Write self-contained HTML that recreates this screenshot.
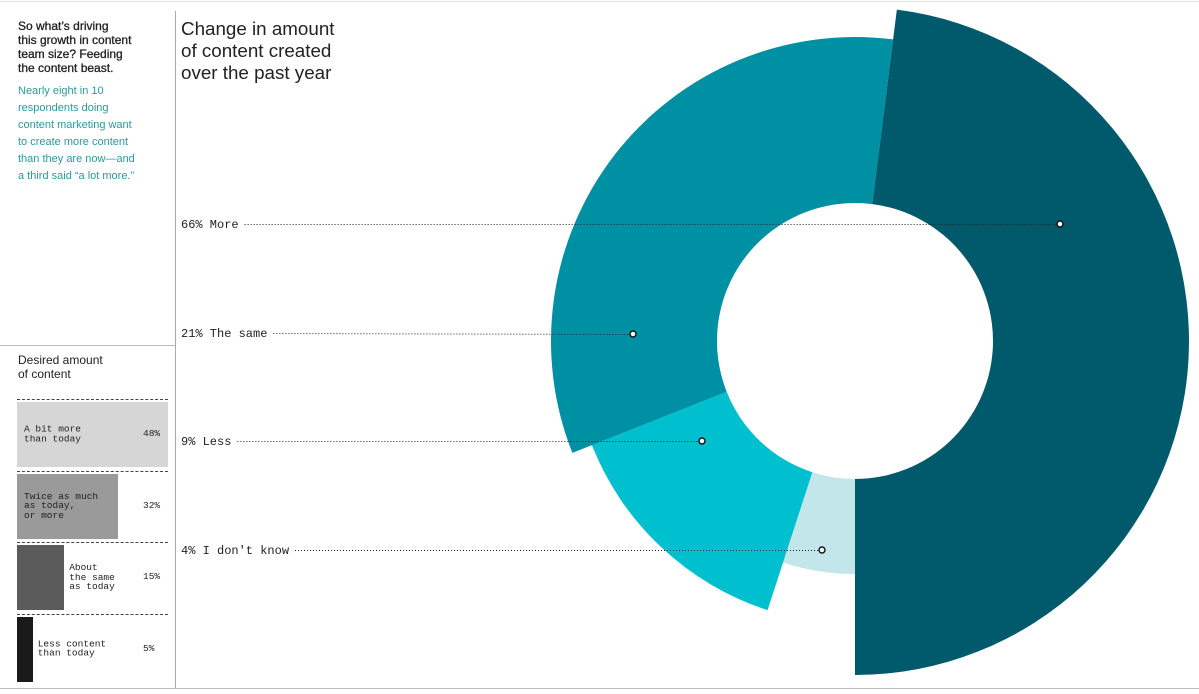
<!DOCTYPE html>
<html><head><meta charset="utf-8"><style>
body{margin:0;background:#fff;width:1199px;height:694px;overflow:hidden;position:relative;font-family:"Liberation Sans",sans-serif}
.abs{position:absolute}
.mono{font-family:"Liberation Mono",monospace}
</style></head><body>
<div class="abs" style="left:0;top:1px;width:1199px;height:1px;background:#e4e4e4"></div>
<div class="abs" style="left:18px;top:19px;width:160px;font-size:12px;line-height:14px;color:#222;-webkit-text-stroke:0.3px #222">So what’s driving<br>this growth in content<br>team size? Feeding<br>the content beast.</div>
<div class="abs" style="left:18px;top:83px;width:160px;font-size:11px;line-height:17px;color:#2a9a9c">Nearly eight in 10<br>respondents doing<br>content marketing want<br>to create more content<br>than they are now—and<br>a third said “a lot more.”</div>
<div class="abs" style="left:175px;top:11px;width:1px;height:678px;background:#aaa"></div>
<div class="abs" style="left:0;top:345px;width:175px;height:1px;background:#bbb"></div>
<div class="abs" style="left:0;top:688px;width:1199px;height:1px;background:#bbb"></div>
<div class="abs" style="left:181px;top:18px;font-size:18.8px;line-height:22px;color:#222">Change in amount<br>of content created<br>over the past year</div>
<div class="abs" style="left:18px;top:353px;font-size:12px;line-height:14px;color:#222">Desired amount<br>of content</div>
<div id="bars"></div>
<svg class="abs" id="donut" style="left:0;top:0" width="1199" height="694"></svg>
<script>
// Desired amount bars
const barLabels=["A bit more<br>than today","Twice as much<br>as today,<br>or more","About<br>the same<br>as today","Less content<br>than today"];
const barValues=[48,32,15,5];
const barColors=["#d6d6d6","#9a9a9a","#5b5b5b","#1a1a1a"];
const bc=document.getElementById('bars');
const pxPer=151/48;
barValues.forEach((v,i)=>{
  const y=402+i*71.5;
  const line=document.createElement('div');
  
  
  line.className='abs';line.style.cssText=`left:17px;top:${y-3}px;width:151px;border-top:1px dashed #444`;
  bc.appendChild(line);
  const w=v*pxPer;
  const b=document.createElement('div');
  
  
  b.className='abs';b.style.cssText=`left:17px;top:${y}px;width:${w}px;height:65px;background:${barColors[i]}`;
  bc.appendChild(b);
  const t=document.createElement('div');
  
  
  const lx=w>90?24:17+w+5;
  t.className='abs mono';t.style.cssText=`left:${lx}px;top:${y+32}px;transform:translateY(-50%);font-size:9.5px;line-height:9.5px;color:#222`;
  t.innerHTML=barLabels[i];bc.appendChild(t);
  const p=document.createElement('div');
  
  
  p.className='abs mono';p.style.cssText=`left:143px;top:${y+26}px;font-size:9.5px;color:#222`;
  p.textContent=v+'%';bc.appendChild(p);
});
// Donut
const sliceNames=["I don't know","Less","The same","More"];
const sliceLabels=[4,9,21,66];
const sliceShares=[5,14,33,48];
const sliceRadii=[233,283,304,334];
const sliceColors=["#c3e6ea","#00bfcf","#0090a3","#005a6c"];
const labelRows=[550,441,333,224];
const markerPos=[[822,550],[702,441],[633,334],[1060,224]];
const cx=855,cy=341,r0=138,start=180;
const svg=document.getElementById('donut');const NS='http://www.w3.org/2000/svg';
function pt(a,r){const t=(a-90)*Math.PI/180;return[cx+r*Math.cos(t),cy+r*Math.sin(t)];}
let ang=start;const total=sliceShares.reduce((a,b)=>a+b,0);
sliceShares.forEach((s,i)=>{
  const sw=s/total*360,a1=ang,a2=ang+sw,R=sliceRadii[i],lg=sw>180?1:0;
  const p1=pt(a1,R),p2=pt(a2,R),q2=pt(a2,r0),q1=pt(a1,r0);
  const path=document.createElementNS(NS,'path');
  path.setAttribute('d',`M${p1}A${R},${R} 0 ${lg} 1 ${p2}L${q2}A${r0},${r0} 0 ${lg} 0 ${q1}Z`);
  path.setAttribute('fill',sliceColors[i]);
  
  
  svg.appendChild(path);ang=a2;
});
sliceNames.forEach((n,i)=>{
  const y=labelRows[i];
  const tx=document.createElementNS(NS,'text');
  tx.setAttribute('x',181);tx.setAttribute('y',y+4);tx.setAttribute('font-family','Liberation Mono, monospace');tx.setAttribute('font-size','12');tx.setAttribute('fill','#222');
  tx.textContent=sliceLabels[i]+'% '+n;
  
  
  svg.appendChild(tx);
  const w=(tx.textContent.length)*7.2;
  const ln=document.createElementNS(NS,'line');
  ln.setAttribute('x1',181+w+6);ln.setAttribute('y1',y+0.5);ln.setAttribute('x2',markerPos[i][0]-3);ln.setAttribute('y2',markerPos[i][1]+0.5);
  ln.setAttribute('stroke','#222');ln.setAttribute('stroke-width','1');ln.setAttribute('stroke-dasharray','1,2');
  
  
  svg.appendChild(ln);
  const c=document.createElementNS(NS,'circle');
  c.setAttribute('cx',markerPos[i][0]);c.setAttribute('cy',markerPos[i][1]);c.setAttribute('r',3);c.setAttribute('fill','#fff');c.setAttribute('stroke','#111');c.setAttribute('stroke-width','1.4');
  
  
  svg.appendChild(c);
});
</script>
</body></html>
